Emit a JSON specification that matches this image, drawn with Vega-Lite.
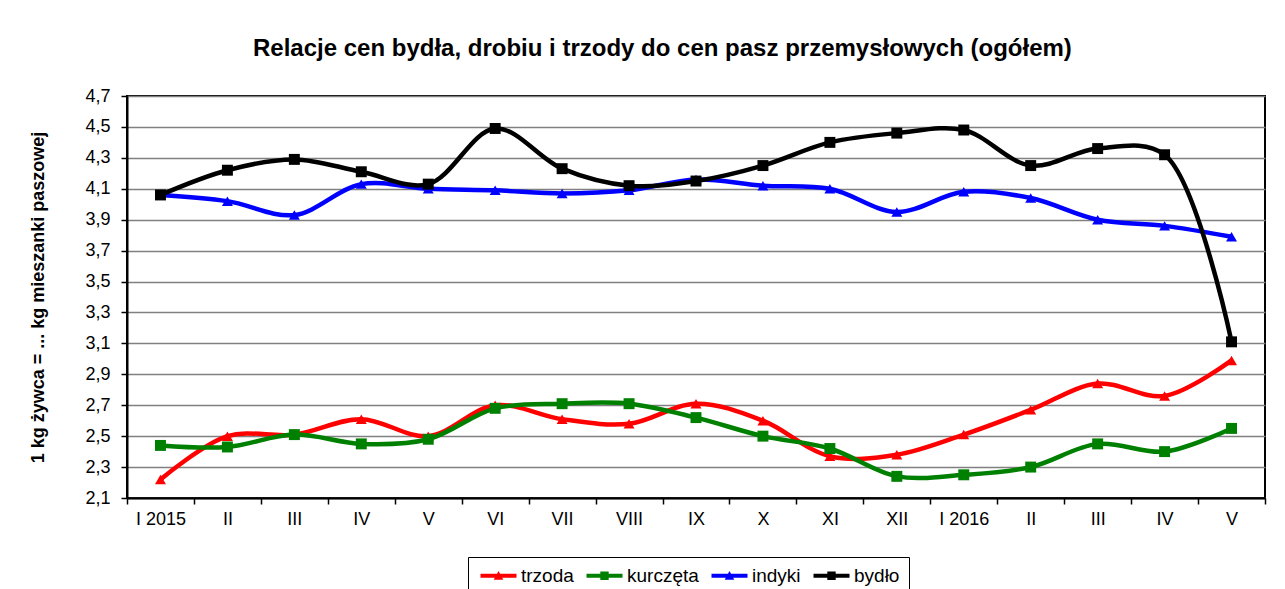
{
  "$schema": "https://vega.github.io/schema/vega-lite/v6.json",
  "width": 1138,
  "height": 402,
  "autosize": {"type": "none"},
  "padding": {"left": 127, "top": 96, "right": 20, "bottom": 91},
  "background": "white",
  "title": {
    "text": "Relacje cen bydła, drobiu i trzody do cen pasz przemysłowych (ogółem)",
    "font": "Liberation Sans",
    "fontSize": 24,
    "fontWeight": "bold",
    "color": "black",
    "anchor": "start",
    "frame": "group",
    "dx": 126,
    "baseline": "alphabetic",
    "offset": 7
  },
  "config": {
    "view": {"stroke": "black", "strokeWidth": 2},
    "axis": {"labelFont": "Liberation Sans", "titleFont": "Liberation Sans", "labelColor": "black", "titleColor": "black"}
  },
  "data": {
    "values": [
      {"m": "I 2015", "s": "trzoda", "v": 2.22},
      {"m": "II 2015", "s": "trzoda", "v": 2.50},
      {"m": "III 2015", "s": "trzoda", "v": 2.51},
      {"m": "IV 2015", "s": "trzoda", "v": 2.61},
      {"m": "V 2015", "s": "trzoda", "v": 2.50},
      {"m": "VI 2015", "s": "trzoda", "v": 2.70},
      {"m": "VII 2015", "s": "trzoda", "v": 2.61},
      {"m": "VIII 2015", "s": "trzoda", "v": 2.58},
      {"m": "IX 2015", "s": "trzoda", "v": 2.71},
      {"m": "X 2015", "s": "trzoda", "v": 2.60},
      {"m": "XI 2015", "s": "trzoda", "v": 2.37},
      {"m": "XII 2015", "s": "trzoda", "v": 2.38},
      {"m": "I 2016", "s": "trzoda", "v": 2.51},
      {"m": "II 2016", "s": "trzoda", "v": 2.67},
      {"m": "III 2016", "s": "trzoda", "v": 2.84},
      {"m": "IV 2016", "s": "trzoda", "v": 2.76},
      {"m": "V 2016", "s": "trzoda", "v": 2.99},
      {"m": "I 2015", "s": "kurczęta", "v": 2.44},
      {"m": "II 2015", "s": "kurczęta", "v": 2.43},
      {"m": "III 2015", "s": "kurczęta", "v": 2.51},
      {"m": "IV 2015", "s": "kurczęta", "v": 2.45},
      {"m": "V 2015", "s": "kurczęta", "v": 2.48},
      {"m": "VI 2015", "s": "kurczęta", "v": 2.68},
      {"m": "VII 2015", "s": "kurczęta", "v": 2.71},
      {"m": "VIII 2015", "s": "kurczęta", "v": 2.71},
      {"m": "IX 2015", "s": "kurczęta", "v": 2.62},
      {"m": "X 2015", "s": "kurczęta", "v": 2.50},
      {"m": "XI 2015", "s": "kurczęta", "v": 2.42},
      {"m": "XII 2015", "s": "kurczęta", "v": 2.24},
      {"m": "I 2016", "s": "kurczęta", "v": 2.25},
      {"m": "II 2016", "s": "kurczęta", "v": 2.30},
      {"m": "III 2016", "s": "kurczęta", "v": 2.45},
      {"m": "IV 2016", "s": "kurczęta", "v": 2.40},
      {"m": "V 2016", "s": "kurczęta", "v": 2.55},
      {"m": "I 2015", "s": "indyki", "v": 4.06},
      {"m": "II 2015", "s": "indyki", "v": 4.02},
      {"m": "III 2015", "s": "indyki", "v": 3.93},
      {"m": "IV 2015", "s": "indyki", "v": 4.13},
      {"m": "V 2015", "s": "indyki", "v": 4.10},
      {"m": "VI 2015", "s": "indyki", "v": 4.09},
      {"m": "VII 2015", "s": "indyki", "v": 4.07},
      {"m": "VIII 2015", "s": "indyki", "v": 4.09},
      {"m": "IX 2015", "s": "indyki", "v": 4.16},
      {"m": "X 2015", "s": "indyki", "v": 4.12},
      {"m": "XI 2015", "s": "indyki", "v": 4.10},
      {"m": "XII 2015", "s": "indyki", "v": 3.95},
      {"m": "I 2016", "s": "indyki", "v": 4.08},
      {"m": "II 2016", "s": "indyki", "v": 4.04},
      {"m": "III 2016", "s": "indyki", "v": 3.90},
      {"m": "IV 2016", "s": "indyki", "v": 3.86},
      {"m": "V 2016", "s": "indyki", "v": 3.79},
      {"m": "I 2015", "s": "bydło", "v": 4.06},
      {"m": "II 2015", "s": "bydło", "v": 4.22},
      {"m": "III 2015", "s": "bydło", "v": 4.29},
      {"m": "IV 2015", "s": "bydło", "v": 4.21},
      {"m": "V 2015", "s": "bydło", "v": 4.13},
      {"m": "VI 2015", "s": "bydło", "v": 4.49},
      {"m": "VII 2015", "s": "bydło", "v": 4.23},
      {"m": "VIII 2015", "s": "bydło", "v": 4.12},
      {"m": "IX 2015", "s": "bydło", "v": 4.15},
      {"m": "X 2015", "s": "bydło", "v": 4.25},
      {"m": "XI 2015", "s": "bydło", "v": 4.40},
      {"m": "XII 2015", "s": "bydło", "v": 4.46},
      {"m": "I 2016", "s": "bydło", "v": 4.48},
      {"m": "II 2016", "s": "bydło", "v": 4.25},
      {"m": "III 2016", "s": "bydło", "v": 4.36},
      {"m": "IV 2016", "s": "bydło", "v": 4.32},
      {"m": "V 2016", "s": "bydło", "v": 3.11}
    ]
  },
  "encoding": {
    "x": {
      "field": "m",
      "type": "ordinal",
      "sort": null,
      "bandPosition": 0.5,
      "scale": {"type": "band", "paddingInner": 0, "paddingOuter": 0},
      "axis": {
        "title": null,
        "tickBand": "extent",
        "labelAngle": 0,
        "labelFontSize": 18,
        "labelPadding": 6,
        "tickSize": 6,
        "tickColor": "black",
        "tickWidth": 1.5,
        "domainColor": "black",
        "domainWidth": 2,
        "grid": false,
        "labelExpr": "!isString(datum.value) ? '' : (datum.value == 'I 2015' || datum.value == 'I 2016' ? datum.value : split(datum.value, ' ')[0])"
      }
    },
    "y": {
      "field": "v",
      "type": "quantitative",
      "scale": {"domain": [2.1, 4.7], "nice": false, "zero": false},
      "axis": {
        "title": "1 kg żywca = ... kg mieszanki paszowej",
        "titleFontSize": 18,
        "titleFontWeight": "bold",
        "titleX": -89,
        "titleY": 201,
        "titleBaseline": "middle",
        "titleAngle": -90,
        "titleAlign": "center",
        "values": [2.1, 2.3, 2.5, 2.7, 2.9, 3.1, 3.3, 3.5, 3.7, 3.9, 4.1, 4.3, 4.5, 4.7],
        "labelExpr": "replace(format(datum.value, '.1f'), '.', ',')",
        "labelFontSize": 18,
        "labelPadding": 11,
        "tickSize": 6,
        "tickColor": "black",
        "tickWidth": 1.5,
        "domainColor": "black",
        "domainWidth": 2,
        "grid": true,
        "gridColor": "#808080",
        "gridWidth": 1.5
      }
    },
    "color": {
      "field": "s",
      "type": "nominal",
      "sort": ["trzoda", "kurczęta", "indyki", "bydło"],
      "scale": {"domain": ["trzoda", "kurczęta", "indyki", "bydło"], "range": ["#FF0000", "#008000", "#0000FF", "#000000"]},
      "legend": {
        "title": null,
        "orient": "none",
        "direction": "horizontal",
        "legendX": 341,
        "legendY": 461,
        "padding": 9,
        "strokeColor": "black",
        "fillColor": "white",
        "labelFont": "Liberation Sans",
        "labelFontSize": 19,
        "labelColor": "black",
        "symbolSize": 144,
        "symbolStrokeWidth": 0,
        "labelOffset": 25,
        "columnPadding": 9,
        "encode": {
          "symbols": {
            "update": {
              "shape": {"signal": "datum.value == 'trzoda' || datum.value == 'indyki' ? 'M-1,-0.33H5V0.33H-1Z M1.2,0.65L2,-0.8L2.8,0.65Z' : 'M-1,-0.33H5V0.33H-1Z M1.3,-0.7H2.7V0.7H1.3Z'"},
              "fill": {"scale": "color", "field": "value"},
              "stroke": {"value": "transparent"},
              "opacity": {"value": 1},
              "fillOpacity": {"value": 1}
            }
          }
        }
      }
    }
  },
  "layer": [
    {
      "mark": {"type": "line", "interpolate": "catmull-rom", "strokeWidth": 4.5}
    },
    {
      "transform": [{"filter": {"field": "s", "oneOf": ["trzoda", "indyki"]}}],
      "mark": {"type": "point", "filled": true, "opacity": 1, "size": 120, "shape": "triangle-up"}
    },
    {
      "transform": [{"filter": {"field": "s", "oneOf": ["kurczęta", "bydło"]}}],
      "mark": {"type": "point", "filled": true, "opacity": 1, "size": 120, "shape": "square"}
    }
  ]
}
